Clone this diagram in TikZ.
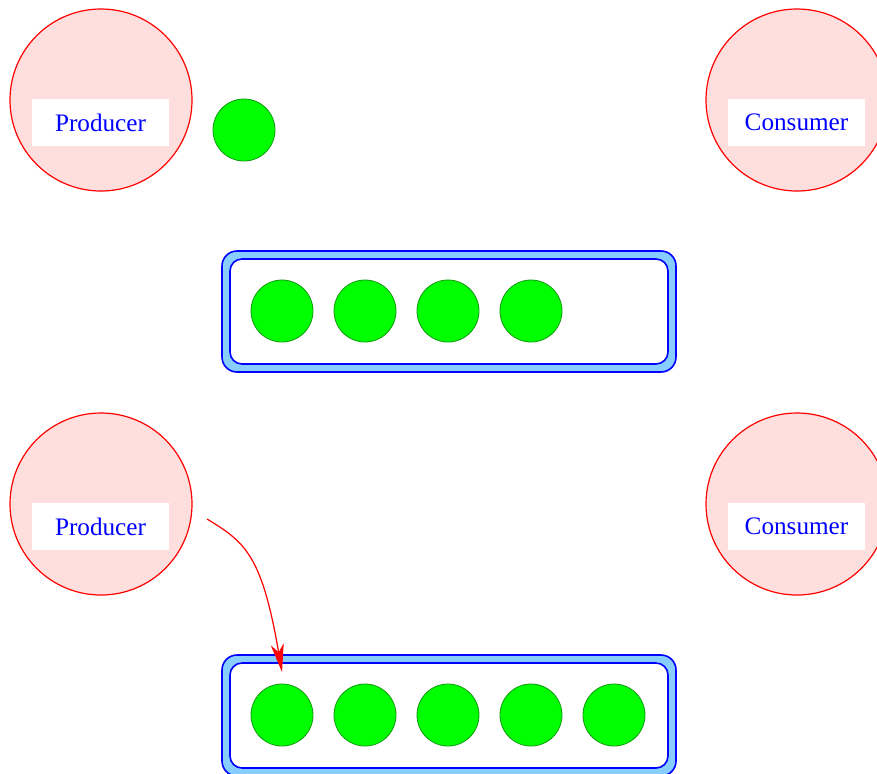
\documentclass[tikz,border=0pt]{standalone}
\usepackage{fontspec}
\setmainfont{Liberation Serif}
\usetikzlibrary{arrows.meta}
\definecolor{pinkfill}{HTML}{FFDEDE}
\definecolor{ballgreen}{HTML}{00FF00}
\definecolor{balledge}{HTML}{119911}
\definecolor{bufblue}{HTML}{87CEFF}
\begin{document}
\begin{tikzpicture}[x=0.5pt,y=-0.5pt,
  actor/.style={circle,draw=red,fill=pinkfill,line width=0.6pt,minimum size=91pt,inner sep=0pt},
  actlabel/.style={fill=white,text=blue,minimum width=68.5pt,minimum height=23.5pt,inner sep=0pt,font=\fontsize{12.6}{15}\selectfont},
  ball/.style={circle,draw=balledge,fill=ballgreen,line width=0.4pt,minimum size=31pt,inner sep=0pt},
  bufouter/.style={draw=blue,fill=bufblue,line width=0.8pt,rounded corners=7.5pt},
  bufinner/.style={draw=blue,fill=white,line width=0.8pt,rounded corners=6pt}]
\useasboundingbox (0,0) rectangle (877,773);
% top
\node[actor] (p1) at (101,100) {};
\node[actlabel] (p1l) at (100.5,122.5) {Producer};
\node[actor] (c1) at (797,100) {};
\node[actlabel] (c1l) at (796.5,122.5) {Consumer};
\node[ball] (b0) at (244,130) {};
\draw[bufouter] (222,251) rectangle (676,372);
\draw[bufinner] (230,259) rectangle (668,364);
\foreach \i/\x in {1/282,2/365,3/448,4/531}
  \node[ball] (t\i) at (\x,311) {};
% bottom
\node[actor] (p2) at (101,504) {};
\node[actlabel] (p2l) at (100.5,526.5) {Producer};
\node[actor] (c2) at (797,504) {};
\node[actlabel] (c2l) at (796.5,526.5) {Consumer};
\draw[bufouter] (222,655) rectangle (676,776);
\draw[bufinner] (230,663) rectangle (668,768);
\foreach \i/\x in {1/282,2/365,3/448,4/531,5/614}
  \node[ball] (u\i) at (\x,715) {};
\coordinate (as) at (207,519);
\coordinate (ae) at (282,672);
\draw[red,line width=0.6pt,-{Stealth[length=14pt,width=6.5pt,inset=4pt]}] (as) .. controls (245,542) and (262,555) .. (ae);
\end{tikzpicture}
\end{document}
